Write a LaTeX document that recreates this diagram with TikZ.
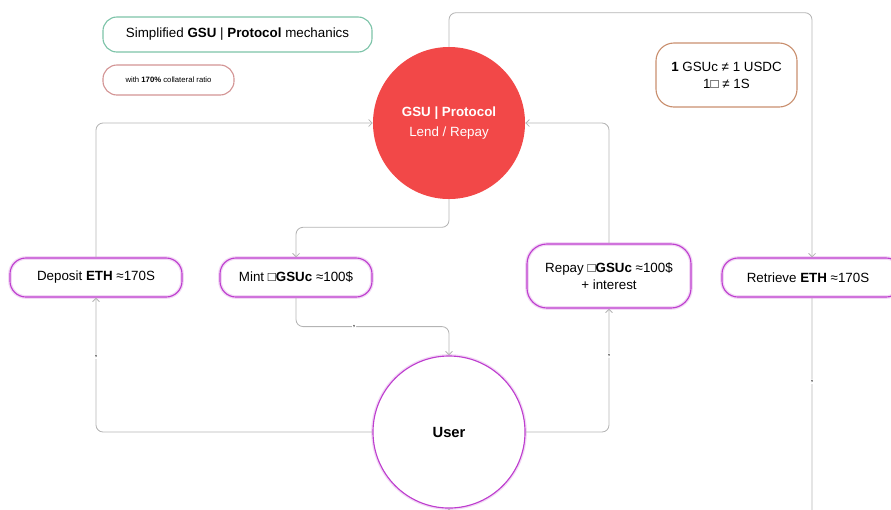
\documentclass[tikz,border=0pt]{standalone}
\usepackage{fontspec}
\setmainfont{Liberation Sans}
\usetikzlibrary{arrows.meta, positioning}

\definecolor{protoRed}{HTML}{F24848}
\definecolor{titleGreen}{HTML}{7CC3A8}
\definecolor{noteBrown}{HTML}{C98F6E}
\definecolor{subRose}{HTML}{D39494}
\definecolor{stepPurple}{HTML}{BE3ECF}
\definecolor{flowGray}{HTML}{B4B4B4}

\begin{document}
\begin{tikzpicture}[
        x=0.025cm, y=-0.025cm,
        font=\fontsize{9.5}{12}\selectfont,
        tag/.style={
          rectangle,
          draw=#1,
          line width=0.8pt,
          rounded corners=0.35cm,
          align=center,
          inner sep=0pt
        },
        stepbox/.style={
          rectangle,
          draw=stepPurple,
          line width=0.8pt,
          preaction={draw=stepPurple!20, line width=2.6pt},
          rounded corners=0.4cm,
          align=center,
          inner sep=0pt,
          minimum height=0.975cm
        },
        party/.style={
          circle,
          minimum size=3.8cm,
          inner sep=0pt,
          align=center
        },
        line/.style={-{Straight Barb[length=2.5pt, width=5pt]}, draw=flowGray, line width=0.6pt, rounded corners=5pt},
        tick/.style={fill=white, inner sep=0.8pt, font=\fontsize{5}{5}\selectfont\bfseries}
    ]
    \useasboundingbox (0,0) rectangle (891,509);

    % Define the nodes
    \node[tag=titleGreen, minimum width=6.725cm, minimum height=0.875cm] (title) at (237.5,34.5)
      {Simplified \textbf{GSU} | \textbf{Protocol} mechanics};
    \node[tag=subRose, minimum width=3.275cm, minimum height=0.75cm, font=\fontsize{5.5}{6}\selectfont] (ratio) at (168.5,80)
      {with \textbf{170\%} collateral ratio};
    \node[tag=noteBrown, minimum width=3.525cm, minimum height=1.6cm, rounded corners=0.45cm] (peg) at (726.5,75)
      {\textbf{1} GSUc ≠ 1 USDC\\1□ ≠ 1S};

    \node[party, fill=protoRed, text=white] (protocol) at (449,123)
      {\textbf{GSU | Protocol}\\[2pt]Lend / Repay};
    \node[party, draw=stepPurple, line width=0.8pt, preaction={draw=stepPurple!20, line width=2.6pt}, fill=white,
      font=\fontsize{10.5}{12}\selectfont\bfseries] (user) at (449,432) {User};

    \node[stepbox, minimum width=4.3cm] (deposit) at (96,277.5) {Deposit \textbf{ETH} ≈170S};
    \node[stepbox, minimum width=3.8cm] (mint) at (296,277.5) {Mint □\textbf{GSUc} ≈100\$};
    \node[stepbox, minimum width=4.1cm, minimum height=1.6cm, rounded corners=0.5cm] (repay) at (609,276)
      {Repay □\textbf{GSUc} ≈100\$\\+ interest};
    \node[stepbox, minimum width=4.5cm] (retrieve) at (812,277.5) {\hspace*{-0.2cm}Retrieve \textbf{ETH} ≈170S};

    % Connect the nodes
    \draw[line] (deposit.north) |- (protocol.west);
    \draw[line] (protocol.south) -- ++(0,28) -| (mint.north);
    \draw[line] (mint.south) -- ++(0,29) -| node[tick, pos=0.19] {,} (user.north);
    \draw[line] (user.east) -| node[tick, pos=0.81] {,} (repay.south);
    \draw[line] (repay.north) |- (protocol.east);
    \draw[line] (user.west) -| node[tick, pos=0.78] {,} (deposit.south);
    \draw[line] (protocol.north) -- ++(0,-34) -| (retrieve.north);
    \draw[line] (retrieve.south) -- node[tick, pos=0.35] {,} ++(0,240) -| (user.south);

    \end{tikzpicture}
\end{document}
